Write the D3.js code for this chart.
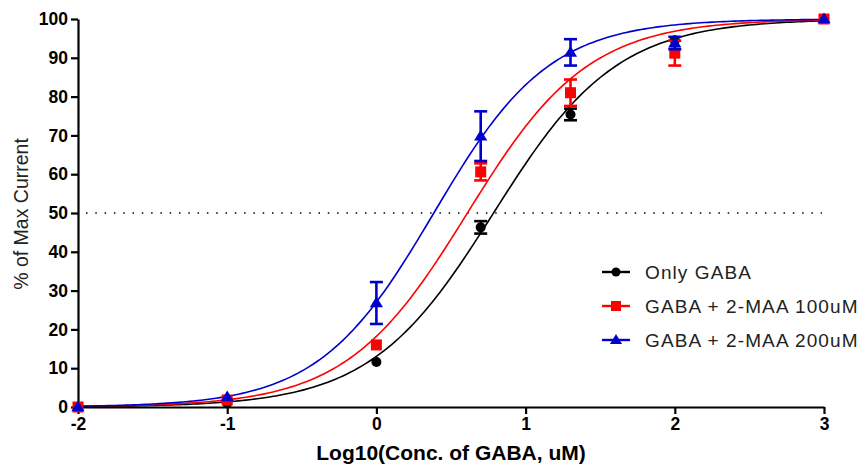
<!DOCTYPE html>
<html><head><meta charset="utf-8">
<script src="https://cdn.jsdelivr.net/npm/d3@7"></script>
<style>
body{margin:0;background:#fff;}
svg{display:block;font-family:"Liberation Sans",Arial,sans-serif;}
</style></head>
<body><svg id="c" width="866" height="468"></svg>
<script>
// ---- data ----
const logConc = [-2, -1, 0, 0.699, 1.301, 2, 3];
const seriesNames = ["Only GABA", "GABA + 2-MAA 100uM", "GABA + 2-MAA 200uM"];
const seriesColors = ["#000000", "#ff0000", "#0000cc"];
const seriesShapes = ["circle", "square", "triangle"];
const onlyGaba = [0, 1.0, 11.6, 46.3, 75.4, 94.5, 100];
const onlyGabaErr = [0, 0, 0, 1.6, 1.5, 0, 0];
const maa100 = [0, 1.8, 16.0, 60.6, 81.0, 91.2, 100];
const maa100Err = [0, 0, 0, 2.2, 3.4, 3.2, 0];
const maa200 = [0, 2.6, 26.8, 69.8, 91.4, 93.8, 100];
const maa200Err = [0, 0, 5.4, 6.4, 3.4, 1.6, 0];
const logEC50 = [0.785, 0.61, 0.385];
const hillSlope = [1.05, 1.07, 1.12];
const xTicks = [-2, -1, 0, 1, 2, 3];
const yTicks = [0, 10, 20, 30, 40, 50, 60, 70, 80, 90, 100];
const refLine = 50;

const values = [onlyGaba, maa100, maa200];
const errs = [onlyGabaErr, maa100Err, maa200Err];

const svg = d3.select("#c");
const x = d3.scaleLinear().domain([-2, 3]).range([78, 824]);
const y = d3.scaleLinear().domain([0, 100]).range([407, 19]);

// reference dotted line
svg.append("line")
  .attr("x1", x(-2) + 8).attr("x2", x(3) - 2)
  .attr("y1", y(refLine)).attr("y2", y(refLine))
  .attr("stroke", "#000").attr("stroke-width", 1.5)
  .attr("stroke-dasharray", "1.5,7.8");

// fitted curves
const hill = (lx, i) => 100 / (1 + Math.pow(10, (logEC50[i] - lx) * hillSlope[i]));
const xs = d3.range(0, 201).map(k => -2 + k * 5 / 200);
const line = d3.line().x(d => x(d[0])).y(d => y(d[1]));
values.forEach((v, i) => {
  svg.append("path")
    .datum(xs.map(lx => [lx, hill(lx, i)]))
    .attr("d", line).attr("fill", "none")
    .attr("stroke", seriesColors[i]).attr("stroke-width", 1.6);
});

// axes
const xAxis = d3.axisBottom(x).tickValues(xTicks).tickSize(7).tickSizeOuter(0).tickPadding(4).tickFormat(d => String(d));
const yAxis = d3.axisLeft(y).tickValues(yTicks).tickSize(7).tickSizeOuter(0).tickPadding(3).tickFormat(d => String(d));
const gx = svg.append("g").attr("transform", `translate(0,${y(0)})`).call(xAxis);
const gy = svg.append("g").attr("transform", `translate(${x(-2)},0)`).call(yAxis);
[gx, gy].forEach(g => {
  g.select(".domain").attr("stroke-width", 2.2);
  g.selectAll(".tick line").attr("stroke-width", 2.2);
  g.selectAll("text").attr("font-size", 17.5).attr("font-weight", "bold")
    .attr("font-family", "Liberation Sans, Arial, sans-serif").attr("fill", "#000");
});

// markers
function drawMarker(g, shape, cx, cy, color, s) {
  if (shape === "circle") {
    g.append("circle").attr("cx", cx).attr("cy", cy).attr("r", s * 0.5).attr("fill", color);
  } else if (shape === "square") {
    g.append("rect").attr("x", cx - s * 0.5).attr("y", cy - s * 0.5).attr("width", s).attr("height", s).attr("fill", color);
  } else {
    const h = s * 0.9;
    g.append("path").attr("d", `M${cx},${cy - h * 0.6}L${cx + s * 0.55},${cy + h * 0.4}L${cx - s * 0.55},${cy + h * 0.4}Z`).attr("fill", color);
  }
}
const markerSize = [10, 11, 12];
values.forEach((v, i) => {
  const g = svg.append("g");
  v.forEach((val, j) => {
    const e = errs[i][j];
    const cx = x(logConc[j]);
    if (e > 0) {
      g.append("line").attr("x1", cx).attr("x2", cx).attr("y1", y(val - e)).attr("y2", y(val + e))
        .attr("stroke", seriesColors[i]).attr("stroke-width", 2.6);
      [val - e, val + e].forEach(t => {
        g.append("line").attr("x1", cx - 6.5).attr("x2", cx + 6.5).attr("y1", y(t)).attr("y2", y(t))
          .attr("stroke", seriesColors[i]).attr("stroke-width", 2.6);
      });
    }
    drawMarker(g, seriesShapes[i], cx, y(val), seriesColors[i], markerSize[i]);
  });
});

// axis titles
svg.append("text").attr("x", 451).attr("y", 460).attr("text-anchor", "middle")
  .attr("font-size", 21).attr("font-weight", "bold").text("Log10(Conc. of GABA, uM)");
svg.append("text").attr("transform", "translate(28,214) rotate(-90)").attr("text-anchor", "middle")
  .attr("font-size", 19.5).attr("fill", "#222").text("% of Max Current");

// legend
const lg = svg.append("g");
seriesNames.forEach((n, i) => {
  const ly = 272 + i * 34;
  lg.append("line").attr("x1", 602).attr("x2", 630).attr("y1", ly).attr("y2", ly)
    .attr("stroke", seriesColors[i]).attr("stroke-width", 2.4);
  drawMarker(lg, seriesShapes[i], 616, ly, seriesColors[i], markerSize[i] - 1);
  lg.append("text").attr("x", 645).attr("y", ly + 7).attr("font-size", 19)
    .attr("letter-spacing", 1.1).attr("fill", "#222").text(n);
});
</script></body></html>
